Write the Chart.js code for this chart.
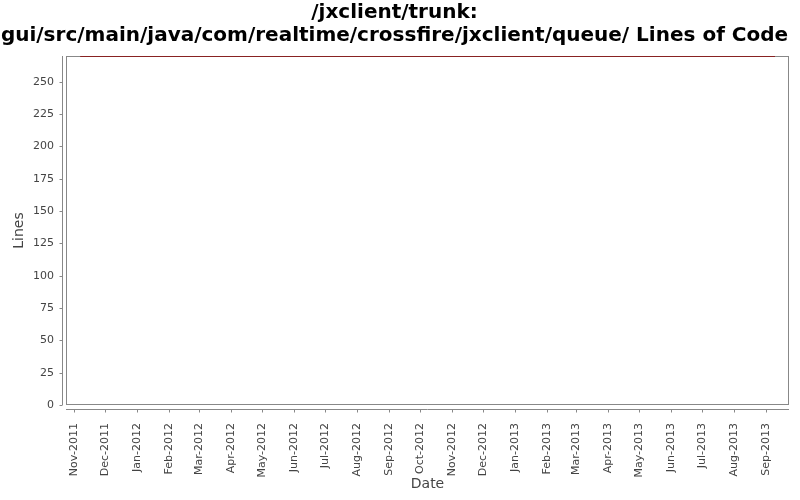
<!DOCTYPE html>
<html>
<head>
<meta charset="utf-8">
<script src="https://cdn.jsdelivr.net/npm/chart.js@4.4.1/dist/chart.umd.min.js"></script>
<style>
html,body{margin:0;padding:0;background:#fff;}
#wrap{width:800px;height:500px;position:relative;}
</style>
</head>
<body>
<div id="wrap"><canvas id="c" width="800" height="500"></canvas></div>
<script>
// ---- data ----
const titleLines = ['/jxclient/trunk:', 'gui/src/main/java/com/realtime/crossfire/jxclient/queue/ Lines of Code'];
const pointDates = ['2011-11-07', '2013-09-10'];
const lineValues = [270, 270];
const tickLabels = ['Nov-2011','Dec-2011','Jan-2012','Feb-2012','Mar-2012','Apr-2012','May-2012','Jun-2012','Jul-2012','Aug-2012','Sep-2012','Oct-2012','Nov-2012','Dec-2012','Jan-2013','Feb-2013','Mar-2013','Apr-2013','May-2013','Jun-2013','Jul-2013','Aug-2013','Sep-2013'];
const yTickStep = 25;

const MONTHS = ['Jan','Feb','Mar','Apr','May','Jun','Jul','Aug','Sep','Oct','Nov','Dec'];
function labelToTime(l){ const [m,y]=l.split('-'); return Date.UTC(+y, MONTHS.indexOf(m), 1); }
function dateToTime(s){ const [y,m,d]=s.split('-').map(Number); return Date.UTC(y,m-1,d); }
const tickTimes = tickLabels.map(labelToTime);
const labelByTime = {}; tickTimes.forEach((t,i)=>labelByTime[t]=tickLabels[i]);
const points = pointDates.map((d,i)=>({x:dateToTime(d), y:lineValues[i]}));

Chart.defaults.font.family = "'DejaVu Sans', sans-serif";
Chart.defaults.color = '#444';

const AXIS = '#888';
const frame = {
  id:'frame',
  beforeDatasetsDraw(chart){
    const {ctx, chartArea:a, scales} = chart;
    ctx.save();
    ctx.strokeStyle = AXIS; ctx.lineWidth = 1;
    ctx.strokeRect(Math.round(a.left)+0.5, Math.round(a.top)+0.5, Math.round(a.right-a.left)-1, Math.round(a.bottom-a.top)-1);
    const ax = Math.round(a.left) - 4 + 0.5;
    ctx.beginPath(); ctx.moveTo(ax, a.top); ctx.lineTo(ax, a.bottom); ctx.stroke();
    scales.y.ticks.forEach((t,i)=>{
      const y = Math.round(scales.y.getPixelForTick(i))+0.5;
      ctx.beginPath(); ctx.moveTo(ax-3, y); ctx.lineTo(ax, y); ctx.stroke();
    });
    const ay = Math.round(a.bottom) + 4 + 0.5;
    ctx.beginPath(); ctx.moveTo(a.left, ay); ctx.lineTo(a.right, ay); ctx.stroke();
    scales.x.ticks.forEach((t,i)=>{
      const x = Math.round(scales.x.getPixelForTick(i))+0.5;
      ctx.beginPath(); ctx.moveTo(x, ay); ctx.lineTo(x, ay+3); ctx.stroke();
    });
    ctx.restore();
  }
};

new Chart(document.getElementById('c'), {
  type:'line',
  data:{ datasets:[{ data: points, borderColor:'#880000', borderWidth:1.6, pointRadius:0, fill:false, tension:0 }] },
  options:{
    responsive:false, animation:false,
    layout:{ padding:{ left:0, right:11, top:0, bottom:0 } },
    plugins:{
      legend:{display:false}, tooltip:{enabled:false},
      title:{ display:true, text:titleLines, color:'#000', font:{size:20, weight:'bold', lineHeight:1.15}, padding:{top:1.5, bottom:8.5} }
    },
    scales:{
      x:{
        type:'linear', min: Date.UTC(2011,9,24,6), max: Date.UTC(2013,8,23,14),
        grid:{display:false, drawTicks:false}, border:{display:false},
        afterBuildTicks(s){ s.ticks = tickTimes.map(v=>({value:v})); },
        afterFit(s){ s.height = 95; },
        ticks:{ autoSkip:false, minRotation:90, maxRotation:90, padding:18, font:{size:11}, color:'#444',
          callback(v){ return labelByTime[v] || ''; } },
        title:{ display:true, text:'Date', font:{size:14}, color:'#444', padding:{top:0, bottom:7} }
      },
      y:{
        min:0, max:270,
        grid:{display:false, drawTicks:false}, border:{display:false},
        afterFit(s){ s.width = 66; },
        ticks:{ stepSize:yTickStep, includeBounds:false, padding:12, font:{size:11}, color:'#444' },
        title:{ display:true, text:'Lines', font:{size:14}, color:'#444', padding:{top:11, bottom:0} }
      }
    }
  },
  plugins:[frame]
});
</script>
</body>
</html>
